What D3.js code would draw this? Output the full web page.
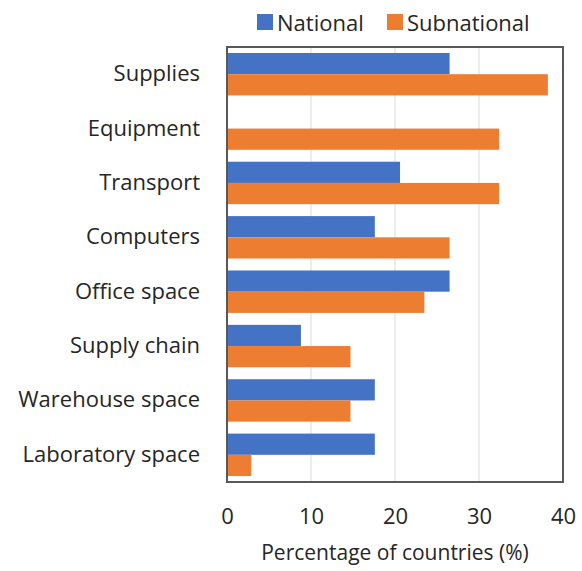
<!DOCTYPE html>
<html><head><meta charset="utf-8">
<script src="https://cdn.jsdelivr.net/npm/d3@7"></script>
<style>body{margin:0;background:#fff}svg{display:block}text{font-family:"Open Sans",sans-serif;fill:#262626}</style>
</head><body><svg id="c" width="582" height="571"></svg>
<script>
const categories = ["Supplies","Equipment","Transport","Computers","Office space","Supply chain","Warehouse space","Laboratory space"];
const seriesNames = ["National","Subnational"];
const national = [26.5, 0, 20.6, 17.6, 26.5, 8.8, 17.6, 17.6];
const subnational = [38.2, 32.4, 32.4, 26.5, 23.5, 14.7, 14.7, 2.9];
const xTicks = [0,10,20,30,40];
const colors = ["#4472C4","#ED7D31"];
const xTitle = "Percentage of countries (%)";
const fs = "22px";

const svg = d3.select("#c");
const m = {l:227, r:563, t:47, b:482};
const x = d3.scaleLinear().domain([0,40]).range([m.l, m.r]);
const y = d3.scaleBand().domain(categories).range([m.t, m.b]).paddingInner(0.22).paddingOuter(0.11);
const ys = d3.scaleBand().domain(seriesNames).range([0, y.bandwidth()]);

// gridlines
svg.append("g").selectAll("line").data(xTicks.slice(1,-1)).join("line")
  .attr("x1", d=>x(d)).attr("x2", d=>x(d)).attr("y1", m.t).attr("y2", m.b)
  .attr("stroke","#d9d9d9").attr("stroke-width",1);

const data = [national, subnational];
svg.append("g").selectAll("g").data(seriesNames).join("g")
  .attr("fill",(d,i)=>colors[i])
  .selectAll("rect").data((s,i)=>categories.map((c,j)=>({c, v:data[i][j], s})))
  .join("rect")
  .attr("x", x(0)).attr("y", d=>y(d.c)+ys(d.s))
  .attr("width", d=>x(d.v)-x(0)).attr("height", ys.bandwidth());

// frame
svg.append("rect").attr("x",m.l).attr("y",m.t).attr("width",m.r-m.l).attr("height",m.b-m.t)
  .attr("fill","none").attr("stroke","#595959").attr("stroke-width",2);

// y labels
const yAxis = d3.axisLeft(y).tickSize(0).tickPadding(27);
const ga = svg.append("g").attr("transform",`translate(${m.l},0)`).call(yAxis);
ga.select(".domain").remove();
ga.selectAll("text").style("font-size",fs).style("font-family","'Open Sans',sans-serif").attr("fill","#262626");

// x axis
const xAxis = d3.axisBottom(x).tickValues(xTicks).tickSize(0).tickPadding(26);
const gx = svg.append("g").attr("transform",`translate(0,${m.b})`).call(xAxis);
gx.select(".domain").remove();
gx.selectAll("text").style("font-size",fs).style("font-family","'Open Sans',sans-serif").attr("fill","#262626");

svg.append("text").attr("x",(m.l+m.r)/2).attr("y",552).attr("text-anchor","middle")
  .attr("dominant-baseline","central").style("font-size","21px").text(xTitle);

// legend
const leg = svg.append("g");
const legX = [257, 387];
seriesNames.forEach((s,i)=>{
  leg.append("rect").attr("x",legX[i]).attr("y",14).attr("width",16).attr("height",16).attr("fill",colors[i]);
  leg.append("text").attr("x",legX[i]+20).attr("y",22).attr("dominant-baseline","central")
    .style("font-size",fs).text(s);
});
</script></body></html>
